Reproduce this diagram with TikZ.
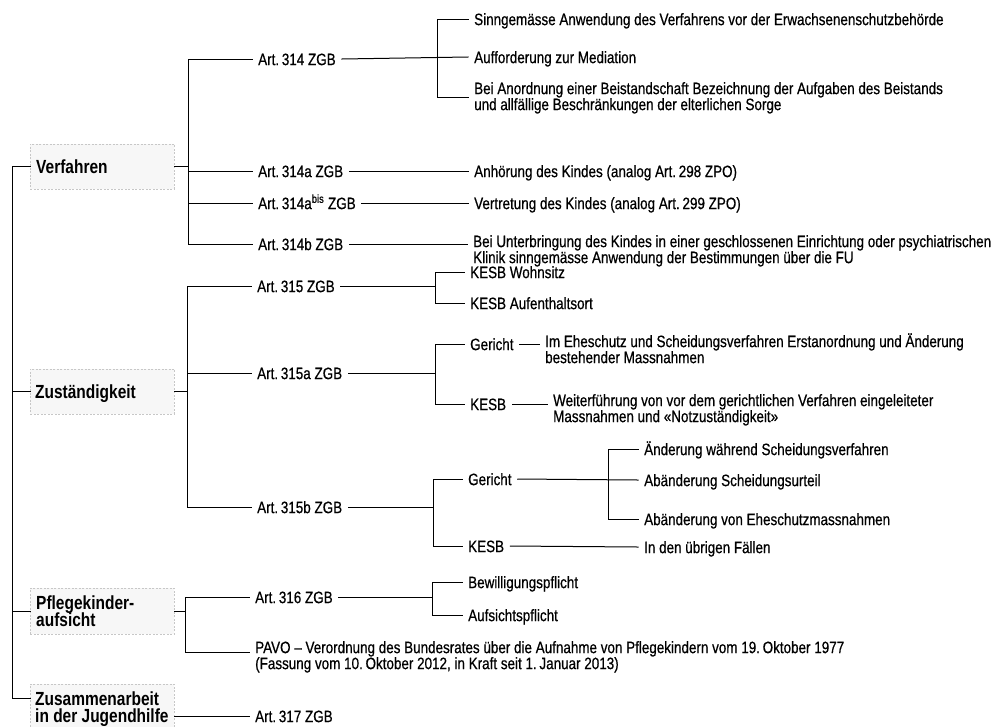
\documentclass[tikz,border=0pt]{standalone}
\usepackage{fontspec}
\setmainfont{Liberation Sans}[FakeStretch=0.815, UprightFeatures={FakeBold=0.6}]
\usetikzlibrary{calc}
\setlength\lineskiplimit{-50pt}
\newcommand\rs{\rule{0pt}{15pt}}
\newcommand\bs{\rule{0pt}{17pt}}
\newcommand\regf{\fontsize{16.5pt}{16pt}\selectfont}
\newcommand\boldf{\fontsize{19pt}{17.5pt}\selectfont\bfseries}
% \Tx{name}{x}{yc}{offset}{text}
\newcommand\Tx[5]{%
  \node[tx] (#1) at (#2,#3-9.1) {\rs#5};
  \coordinate (#1-w) at ($(#1.north west)+(-6,9.1+#4)$);
  \coordinate (#1-e) at ($(#1.north east)+(6,9.1+#4)$);}
\newcommand\Bx[4]{\node[bx] (#1) at (#2,#3-10.2) {\bs#4};}
\newcommand\Brk[3]{\draw[ln] (#2-w) -- (#2-w -| #1) -- (#3-w -| #1) -- (#3-w);}
\tikzset{
  tx/.style={anchor=north west, inner sep=0pt, font=\regf, align=left},
  bx/.style={anchor=north west, inner sep=0pt, font=\boldf, align=left},
  lbox/.style={draw=black!22, dash pattern=on 2pt off 1.5pt, fill=black!3,
    line width=0.6pt, inner sep=0pt, anchor=north west, minimum width=144pt},
  ln/.style={line width=1pt, line cap=rect}
}
\begin{document}
\begin{tikzpicture}[x=1pt,y=-1pt]
\useasboundingbox[fill=white] (0,0) rectangle (1003,726);
% level-1 boxes
\node[lbox, minimum height=45pt] (bV) at (30,143.5) {};
\node[lbox, minimum height=45pt] (bZ) at (30,368.5) {};
\node[lbox, minimum height=46pt] (bP) at (30,588) {};
\node[lbox, minimum height=60pt] (bZus) at (30,684) {};
\Bx{tV}{36}{166}{Verfahren}
\Bx{tZ}{35}{391}{Zuständigkeit}
\Bx{tP}{36}{602}{Pflegekinder-\\aufsicht}
\Bx{tZus}{35}{698}{Zusammenarbeit\\in der Jugendhilfe}
% level-2 texts
\Tx{a314}{258}{59}{0}{Art.\,314 ZGB}
\Tx{a314a}{258}{171}{0}{Art.\,314a ZGB}
\Tx{a314bis}{258}{203}{0}{Art.\,314a\textsuperscript{bis} ZGB}
\Tx{a314b}{258}{244}{0}{Art.\,314b ZGB}
\Tx{a315}{257}{286}{0}{Art.\,315 ZGB}
\Tx{a315a}{257}{373}{0}{Art.\,315a ZGB}
\Tx{a315b}{257}{507}{0}{Art.\,315b ZGB}
\Tx{a316}{255}{597}{0}{Art.\,316 ZGB}
\Tx{pavo}{255}{647}{5}{PAVO – Verordnung des Bundesrates über die Aufnahme von Pflegekindern vom 19.\,Oktober 1977\\(Fassung vom 10.\,Oktober 2012, in Kraft seit 1.\,Januar 2013)}
\Tx{a317}{255}{716}{0}{Art.\,317 ZGB}
% level-3 texts (Verfahren)
\Tx{sinn}{474}{19}{0}{Sinngemässe Anwendung des Verfahrens vor der Erwachsenenschutzbehörde}
\Tx{auff}{474}{57}{0}{Aufforderung zur Mediation}
\Tx{beian}{474}{88}{9}{Bei Anordnung einer Beistandschaft Bezeichnung der Aufgaben des Beistands\\und allfällige Beschränkungen der elterlichen Sorge}
\Tx{anh}{474}{171}{0}{Anhörung des Kindes (analog Art.\,298 ZPO)}
\Tx{vert}{474}{203}{0}{Vertretung des Kindes (analog Art.\,299 ZPO)}
\Tx{unter}{473}{241}{3}{Bei Unterbringung des Kindes in einer geschlossenen Einrichtung oder psychiatrischen\\Klinik sinngemässe Anwendung der Bestimmungen über die FU}
% level-3 texts (Zustaendigkeit)
\Tx{wohn}{470}{272}{0}{KESB Wohnsitz}
\Tx{aufort}{470}{303}{0}{KESB Aufenthaltsort}
\Tx{ger1}{470}{344}{0}{Gericht}
\Tx{kesb1}{470}{404}{0}{KESB}
\Tx{ehe}{545}{341}{3}{Im Eheschutz und Scheidungsverfahren Erstanordnung und Änderung\\bestehender Massnahmen}
\Tx{weiter}{553}{400}{4}{Weiterführung von vor dem gerichtlichen Verfahren eingeleiteter\\Massnahmen und «Notzuständigkeit»}
\Tx{ger2}{468}{479}{0}{Gericht}
\Tx{kesb2}{468}{546}{0}{KESB}
\Tx{aend}{644}{449}{0}{Änderung während Scheidungsverfahren}
\Tx{abs}{644}{480}{0}{Abänderung Scheidungsurteil}
\Tx{abe}{644}{519}{0}{Abänderung von Eheschutzmassnahmen}
\Tx{ueb}{644}{547}{0}{In den übrigen Fällen}
% level-3 texts (Pflegekinder)
\Tx{bew}{468}{582}{0}{Bewilligungspflicht}
\Tx{aufs}{468}{615}{0}{Aufsichtspflicht}
% bus coordinates
\coordinate (rx) at (12,0);
\coordinate (rend) at (12,698);
\coordinate (v2) at (188,0);
\coordinate (v3) at (437,0);
\coordinate (z2) at (187,0);
\coordinate (z3) at (435,0);
\coordinate (z3b) at (433,0);
\coordinate (z4) at (608,0);
\coordinate (p2) at (185,0);
\coordinate (p3) at (432,0);
% root
\draw[ln] (bV.west) -- (bV.west -| rx) -- (rend) -- (bZus.west |- rend);
\draw[ln] (bZ.west) -- (bZ.west -| rx);
\draw[ln] (bP.west) -- (bP.west -| rx);
% Verfahren
\draw[ln] (bV.east) -- (bV.east -| v2);
\Brk{v2}{a314}{a314b}
\draw[ln] (a314a-w -| v2) -- (a314a-w);
\draw[ln] (a314bis-w -| v2) -- (a314bis-w);
\Brk{v3}{sinn}{beian}
\draw[ln] (a314-e) -- (auff-w);
\draw[ln] (a314a-e) -- (anh-w);
\draw[ln] (a314bis-e) -- (vert-w);
\draw[ln] (a314b-e) -- (unter-w);
% Zustaendigkeit
\draw[ln] (bZ.east) -- (bZ.east -| z2);
\Brk{z2}{a315}{a315b}
\draw[ln] (a315a-w -| z2) -- (a315a-w);
\draw[ln] (a315-e) -- (a315-e -| z3);
\Brk{z3}{wohn}{aufort}
\draw[ln] (a315a-e) -- (a315a-e -| z3);
\Brk{z3}{ger1}{kesb1}
\draw[ln] (ger1-e) -- (ehe-w);
\draw[ln] (kesb1-e) -- (weiter-w);
\draw[ln] (a315b-e) -- (a315b-e -| z3b);
\Brk{z3b}{ger2}{kesb2}
\Brk{z4}{aend}{abe}
\draw[ln] (ger2-e) -- (abs-w);
\draw[ln] (kesb2-e) -- (ueb-w);
% Pflegekinder
\draw[ln] (bP.east) -- (bP.east -| p2);
\Brk{p2}{a316}{pavo}
\draw[ln] (a316-e) -- (a316-e -| p3);
\Brk{p3}{bew}{aufs}
% Zusammenarbeit
\draw[ln] (a317-w -| bZus.east) -- (a317-w);
\end{tikzpicture}
\end{document}
